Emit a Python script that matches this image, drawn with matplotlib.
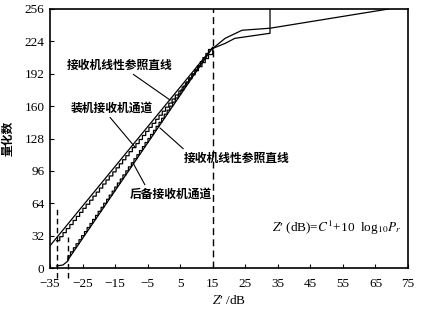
import numpy as np
import matplotlib
matplotlib.use("Agg")
import matplotlib.pyplot as plt

plt.rcParams['font.family'] = ['Liberation Serif', 'DejaVu Sans']
plt.rcParams['mathtext.fontset'] = 'stix'

# axis ticks
x_ticks = [-35, -25, -15, -5, 5, 15, 25, 35, 45, 55, 65, 75]
y_ticks = [0, 32, 64, 96, 128, 160, 192, 224, 256]

# linear reference lines
ref_hi_x = [-35, 15]
ref_hi_y = [22, 218]
ref_lo_x = [-29.5, 15]
ref_lo_y = [8, 218]

# 装机接收机通道 (quantisation steps, then saturation part)
zj_step_x = [-33.0, -32.0, -31.0, -30.0, -28.9, -27.9, -26.9, -25.9, -24.9, -23.9,
             -22.8, -21.8, -20.8, -19.8, -18.8, -17.8, -16.8, -15.7, -14.7, -13.7,
             -12.7, -11.7, -10.7, -9.7, -8.6, -7.6, -6.6, -5.6, -4.6, -3.6,
             -2.5, -1.5, -0.5, 0.5, 1.5, 2.5, 3.5, 4.6, 5.6, 6.6,
             7.6, 8.6, 9.6, 10.6, 11.7, 12.7, 13.7]
zj_step_y = [27, 31, 35, 39, 43, 47, 51, 55, 59, 63, 67, 71, 75, 79, 83, 87,
             91, 95, 99, 103, 107, 111, 115, 119, 123, 127, 131, 135, 139, 143,
             147, 151, 155, 159, 163, 167, 171, 175, 179, 183, 187, 191, 195,
             199, 203, 207, 211]
zj_tail_x = [15, 18.8, 24, 32.6, 69]
zj_tail_y = [217, 227, 235, 237, 256]

# 后备接收机通道
hb_head_x = [-33, -31, -29.5]
hb_head_y = [2, 3, 7]
hb_step_x = [-29.5, -28.7, -27.8, -27.0, -26.1, -25.3, -24.4, -23.6, -22.7, -21.9,
             -21.0, -20.2, -19.3, -18.5, -17.6, -16.8, -15.9, -15.1, -14.3, -13.4,
             -12.6, -11.7, -10.9, -10.0, -9.2, -8.3, -7.5, -6.6, -5.8, -4.9,
             -4.1, -3.2, -2.4, -1.5, -0.7, 0.1, 1.0, 1.8, 2.7, 3.5,
             4.4, 5.2, 6.1, 6.9, 7.8, 8.6, 9.5, 10.3, 11.2, 12.0,
             12.9, 13.7]
hb_step_y = [12, 16, 20, 24, 28, 32, 36, 40, 44, 48, 52, 56, 60, 64, 68, 72,
             76, 80, 84, 88, 92, 96, 100, 104, 108, 112, 116, 120, 124, 128,
             132, 136, 140, 144, 148, 152, 156, 160, 164, 168, 172, 176, 180,
             184, 188, 192, 196, 200, 204, 208, 212, 216]
hb_tail_x = [15, 18.8, 21.8, 32.6, 32.6]
hb_tail_y = [217, 222, 227, 232, 256]


def stair(xs, ys, x_end):
    px, py = [], []
    for i in range(len(xs)):
        nxt = xs[i + 1] if i + 1 < len(xs) else x_end
        px += [xs[i], nxt]
        py += [ys[i], ys[i]]
    return px, py


fig = plt.figure(figsize=(4.43, 3.18), dpi=100)
ax = fig.add_axes([0.1129, 0.1572, 0.8081, 0.8145])

lw = 0.9
ax.plot(ref_hi_x, ref_hi_y, color="black", lw=lw)
ax.plot(ref_lo_x, ref_lo_y, color="black", lw=lw)

sx, sy = stair(zj_step_x, zj_step_y, 15)
ax.plot(sx + zj_tail_x, sy + zj_tail_y, color="black", lw=lw)

sx, sy = stair(hb_step_x, hb_step_y, 15)
ax.plot(hb_head_x + sx + hb_tail_x, hb_head_y + sy + hb_tail_y, color="black", lw=lw)

# dashed markers
ax.plot([-33, -33], [-10, 59], color="black", lw=1.0, ls=(0, (4, 2.5)), clip_on=False)
ax.plot([-29.5, -29.5], [-10, 31], color="black", lw=1.0, ls=(0, (4, 2.5)), clip_on=False)
ax.plot([15, 15], [0, 256], color="black", lw=1.0, ls=(0, (5, 3)))

cjk = ['Noto Sans CJK SC', 'DejaVu Sans']
arrow = dict(arrowstyle="-", color="black", lw=0.8, shrinkA=0, shrinkB=0)
ax.annotate("接收机线性参照直线", xy=(1.9, 166), xytext=(-13.5, 200.6),
            ha="center", va="center", fontsize=8.5, family=cjk, weight="bold",
            arrowprops=arrow)
ax.annotate("装机接收机通道", xy=(-8.9, 119.6), xytext=(-16, 158),
            ha="center", va="center", fontsize=8.5, family=cjk, weight="bold",
            arrowprops=dict(arrow, relpos=(0.45, 0)))
ax.annotate("接收机线性参照直线", xy=(-1.2, 138.4), xytext=(22.5, 108.7),
            ha="center", va="center", fontsize=8.5, family=cjk, weight="bold",
            arrowprops=dict(arrow, relpos=(0.02, 1)))
ax.annotate("后备接收机通道", xy=(-9.5, 103.8), xytext=(2.2, 73.1),
            ha="center", va="center", fontsize=8.5, family=cjk, weight="bold",
            arrowprops=dict(arrow, relpos=(0.2, 1)))

ax.text(53.2, 39.5, "$Z$\u2032 (dB)=$C^{1}$+10  log$_{10}P_r$", ha="center", va="center",
        fontsize=9.5)

ax.set_xlim(-35, 75)
ax.set_ylim(0, 256)
ax.set_xticks(x_ticks)
ax.set_yticks(y_ticks)
ax.tick_params(direction="in", length=3, width=0.8, labelsize=9.5)
ax.tick_params(axis="x", pad=7)
ax.tick_params(axis="y", pad=4)
for s in ax.spines.values():
    s.set_linewidth(1.2)

ax.set_xlabel("$Z$\u2032 /dB", fontsize=9.5, labelpad=3)
ax.set_ylabel("量化数", family=cjk, weight="bold", fontsize=8.5, labelpad=7)

fig.savefig("out.png", dpi=100)
